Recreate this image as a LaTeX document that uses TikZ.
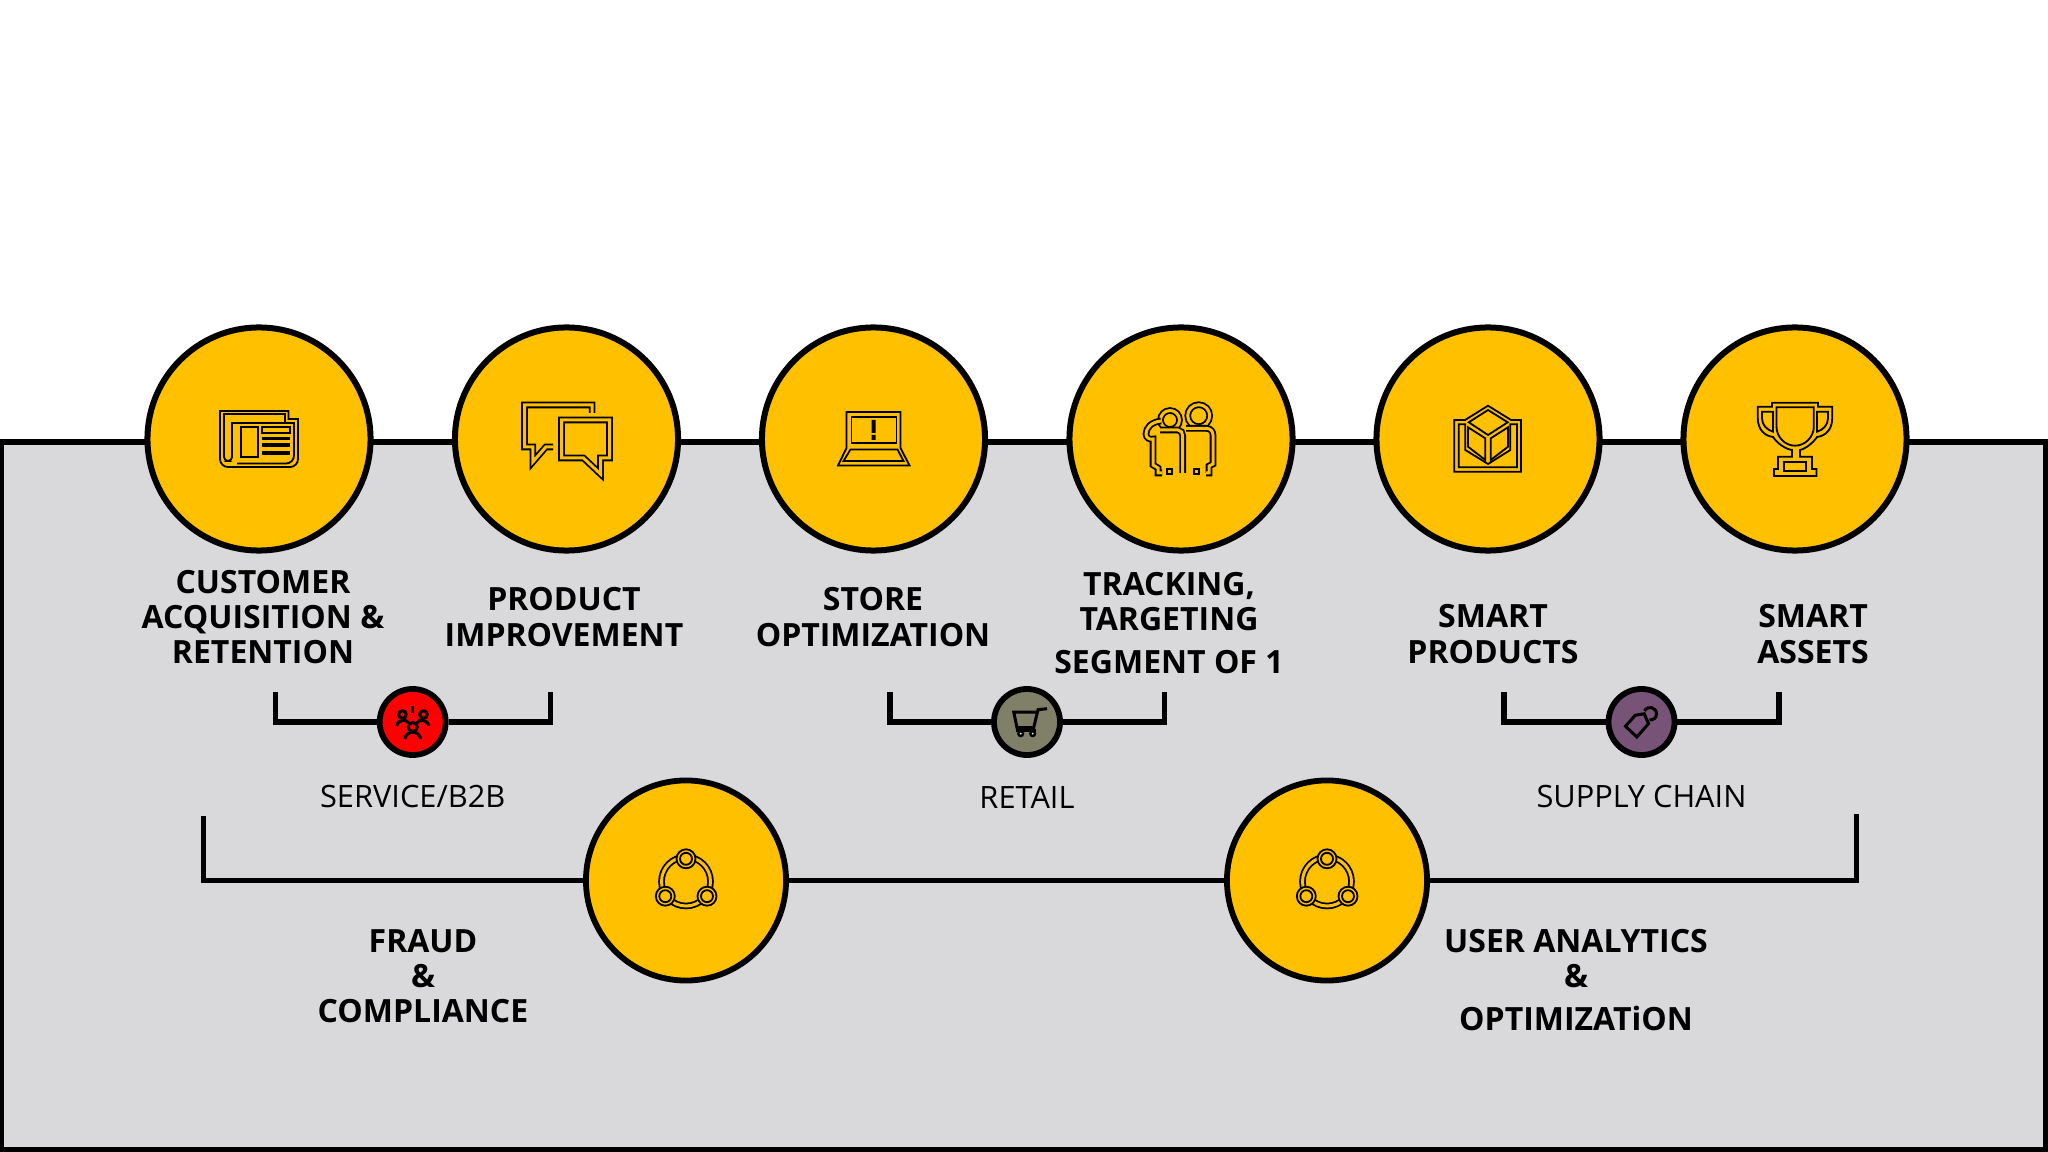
\documentclass[tikz,border=0pt]{standalone}
\usepackage{fontspec}
\setmainfont{Open Sans}
\usetikzlibrary{calc}

\definecolor{gold}{HTML}{FFC000}
\definecolor{panelgray}{HTML}{D9D8DB}
\definecolor{retailolive}{HTML}{808068}
\definecolor{chainpurple}{HTML}{775377}

\begin{document}
\begin{tikzpicture}[x = 0.01cm, y = -0.01cm,
    bar/.style = {line width = 0.058cm},
    bigdot/.style = {circle, draw, fill = gold, line width = 0.06cm, minimum size = 2.23cm, inner sep = 0},
    middot/.style = {circle, draw, fill = gold, line width = 0.058cm, minimum size = 2.0cm, inner sep = 0},
    smalldot/.style = {circle, draw, line width = 0.058cm, minimum size = 0.66cm, inner sep = 0},
    usecase/.style = {align = center, font = \fontsize{9.1}{10}\selectfont\bfseries},
    segment/.style = {font = \fontsize{8.75}{10}\selectfont},
    icon/.style = {line width = 0.018cm, line join = miter},
    glyph/.style = {line width = 0.03cm}
  ]
    \useasboundingbox (0, 0) rectangle (2048, 1152);
    \draw[bar, fill = panelgray] (1, 442) rectangle (2046, 1150);

    % top row
    \foreach \name/\x in {custc/259, prodc/566.5, storec/873.5, trackc/1181, smartc/1488, assetc/1795}
      \node[bigdot] (\name) at (\x, 439) {};

    \node[usecase] (custt) at (263, 617) {CUSTOMER\\ACQUISITION \&\\RETENTION};
    \node[usecase] (prodt) at (564, 617) {PRODUCT\\IMPROVEMENT};
    \node[usecase] (storet) at (873, 617) {STORE\\OPTIMIZATION};
    \node[usecase] (trackt) at (1169, 623) {TRACKING,\\TARGETING\\[0.085cm]SEGMENT OF 1};
    \node[usecase] (smartt) at (1493, 634) {SMART\\PRODUCTS};
    \node[usecase] (assett) at (1813, 634) {SMART\\ASSETS};

    % segment brackets
    \node[smalldot, fill = red] (svc) at (412.7, 722) {};
    \node[smalldot, fill = retailolive] (retail) at (1027, 722) {};
    \node[smalldot, fill = chainpurple] (chain) at (1641.5, 722) {};
    \foreach \seg/\lx/\rx in {svc/275.5/550.5, retail/890/1164.5, chain/1504/1779} {
      \coordinate (\seg L) at (\lx, 692);
      \coordinate (\seg R) at (\rx, 692);
      \draw[bar] (\seg L) |- (\seg.west);
      \draw[bar] (\seg.east) -| (\seg R);
    }
    \node[segment] (svct) at (412.7, 797) {SERVICE/B2B};
    \node[segment] (retailt) at (1027, 797) {RETAIL};
    \node[segment] (chaint) at (1641.5, 797) {SUPPLY CHAIN};

    % lower row
    \node[middot] (fraudc) at (686, 880.5) {};
    \node[middot] (userc) at (1327, 880.5) {};
    \coordinate (fraudL) at (203.5, 816);
    \coordinate (userR) at (1856.5, 814);
    \draw[bar] (fraudL) |- (fraudc.west);
    \draw[bar] (fraudc.east) -- (userc.west);
    \draw[bar] (userc.east) -| (userR);
    \node[usecase] (fraudt) at (423, 976) {FRAUD\\\&\\COMPLIANCE};
    \node[usecase] (usert) at (1576, 980) {USER ANALYTICS\\\&\\[0.08cm]OPTIMIZATiON};

    % newspaper
    \begin{scope}[shift = {(custc)}, shift = {(0, 1)}, icon]
      \draw (-39, -29) -- (29.5, -29) -- (29.5, -21) -- (39, -21) [rounded corners = 0.08cm] -- (39, 27) -- (-39, 27) [sharp corners] -- cycle;
      \draw (-35, -26) -- (26, -26) -- (26, -17) -- (-27, -17) [rounded corners = 0.04cm] -- (-27, 21) -- (-35, 21) [sharp corners] -- cycle;
      \draw (-27, -17) -- (35, -17) [rounded corners = 0.08cm] -- (35, 23.5) -- (-22, 23.5);
      \draw (-18, -13) rectangle (-1, 17);
      \draw (3, -13) rectangle (31, -7);
      \draw[line width = 0.035cm] (3, -1.5) -- (31, -1.5) (3, 5) -- (31, 5) (3, 13) -- (31, 13);
    \end{scope}

    % speech bubbles
    \begin{scope}[shift = {(prodc)}, shift = {(0, 1)}, icon]
      \draw[double = gold, double distance = 0.03cm] (25.6, -27) -- (25.6, -35) -- (-42, -35) -- (-42, 7) -- (-33.7, 7) -- (-33.7, 22) -- (-20.7, 7) -- (-13.4, 7);
      \draw[double = gold, double distance = 0.03cm] (-5, -20) -- (43, -20) -- (43, 18) -- (34, 18) -- (34, 34) -- (17, 18) -- (-5, 18) -- cycle;
    \end{scope}

    % laptop
    \begin{scope}[shift = {(storec)}, shift = {(0, 1)}, icon]
      \draw (-27, -28) -- (27, -28) -- (27, 8) -- (36, 25.5) -- (-35.5, 25.5) -- (-27, 8) -- cycle;
      \draw (-22, -23.3) rectangle (23, 3.3);
      \draw (-23, 9.5) -- (24, 9.5) -- (30, 21) -- (-30, 21) -- cycle;
      \fill (-2, -20) rectangle (2, -7) (-2, -5) rectangle (2, 0);
    \end{scope}

    % two people
    \begin{scope}[shift = {(trackc)}, shift = {(0, 1)}, icon]
      \draw[double = gold, double distance = 0.03cm] (-11, -20) circle (9.5);
      \draw[double = gold, double distance = 0.03cm] (17.7, -24.3) circle (11);
      \draw[double = gold, double distance = 0.03cm] (5, -11.7) -- (25, -11.7) .. controls (30, -11.7) and (32, -8) .. (32, -5) -- (32, 24) -- (28, 26) -- (28, 33) -- (25, 33);
      \draw[double = gold, double distance = 0.03cm] (-21, -10) -- (-3, -10) .. controls (0, -10) and (1.7, -7) .. (1.7, -4) -- (1.7, 33);
      \draw[double = gold, double distance = 0.03cm] (-20, -19) .. controls (-30, -18) and (-35, -12) .. (-35, -6) .. controls (-35, -2) and (-31, 0) .. (-28, -1) -- (-28, 25) -- (-23, 28) -- (-23, 33) -- (-19, 33);
      \draw (-14, 29) rectangle (-9, 34) (13, 29) rectangle (18, 34);
    \end{scope}

    % box
    \begin{scope}[shift = {(smartc)}, shift = {(0, 1)}, icon]
      \draw (-33.7, -20) -- (-23, -20) -- (0, -34.3) -- (23, -20) -- (33, -20) -- (33, 31.7) -- (-33.7, 31.7) -- cycle;
      \draw (-29.3, -15.7) -- (-22.7, -15.7) -- (-22.7, 10) -- (0, 24) -- (22.3, 10) -- (22.3, -15.7) -- (29, -15.7) -- (29, 27.3) -- (-29.3, 27.3) -- cycle;
      \draw (0, -30) -- (19.7, -17.7) -- (0, -5) -- (-19.3, -17.7) -- cycle;
      \draw (-20, -12.7) -- (-2.7, -1.7) -- (-2.7, 20) -- (-20, 6.7) -- cycle;
      \draw (20, -12.7) -- (2.7, -1.7) -- (2.7, 20) -- (20, 6.7) -- cycle;
    \end{scope}

    % trophy
    \begin{scope}[shift = {(assetc)}, shift = {(0, 1)}, icon]
      \draw (-23, -37.3) -- (23, -37.3) -- (23, -33.3) -- (37.2, -33.3) -- (37.2, -21.7) .. controls (37.2, -10) and (30, -4) .. (22, -3) .. controls (18, 3) and (10, 9) .. (5, 10) -- (5, 16.7) -- (17, 16.7) -- (17, 29) -- (21.5, 29) -- (21.5, 36) -- (-21, 36) -- (-21, 29) -- (-17, 29) -- (-17, 16.7) -- (-3, 16.7) -- (-3, 10) .. controls (-10, 9) and (-18, 3) .. (-22, -3) .. controls (-30, -4) and (-37.2, -10) .. (-37.2, -21.7) -- (-37.2, -33.3) -- (-23, -33.3) -- cycle;
      \draw (-18.5, -32.7) -- (18.8, -32.7) -- (18.8, -13.3) .. controls (18.8, -3) and (10, 5.7) .. (0, 5.7) .. controls (-10, 5.7) and (-18.5, -3) .. (-18.5, -13.3) -- cycle;
      \draw (-33, -28.3) -- (-22, -28.3) -- (-22, -8.3) .. controls (-28, -10) and (-33, -15) .. (-33, -21.7) -- cycle;
      \draw (33, -28.3) -- (22, -28.3) -- (22, -8.3) .. controls (28, -10) and (33, -15) .. (33, -21.7) -- cycle;
      \draw (-11, 21.7) rectangle (11, 30.7);
    \end{scope}

    % three linked circles
    \foreach \hub in {fraudc, userc} {
      \begin{scope}[shift = {(\hub)}, icon]
        \draw[double = gold, double distance = 0.03cm] (0, 1) circle (24.5);
        \foreach \px/\py in {0/-21.7, -20.7/15.7, 21/15.7} {
          \draw[fill = gold] (\px, \py) circle (9.5);
          \draw (\px, \py) circle (6);
        }
      \end{scope}
    }

    % service people
    \begin{scope}[shift = {(svc)}, glyph]
      \draw (0, -16) -- (0, -9);
      \draw (-10.3, -7.5) circle (3.8) (10.7, -7.5) circle (3.8) (0, 5) circle (4.5);
      \draw (-16, 4) .. controls (-15, -3) and (-6, -3) .. (-4, 1) (16, 4) .. controls (15, -3) and (6, -3) .. (4, 1);
      \draw (-8, 17) .. controls (-6, 8) and (6, 8) .. (8, 17);
    \end{scope}

    % cart
    \begin{scope}[shift = {(retail)}, glyph]
      \draw (20, -13.3) -- (11, -12.3) -- (6.7, 5.7) -- (-10, 5.7) -- (-13.3, -10) -- (11, -10);
      \draw (-11, 8.5) -- (9, 8.5);
      \fill (-6.3, 11.7) circle (3.6) (5.7, 11.7) circle (3.6);
      \fill[white] (-6.3, 11.7) circle (1) (5.7, 11.7) circle (1);
    \end{scope}

    % tag
    \begin{scope}[shift = {(chain)}, glyph]
      \draw (-16, 4.3) -- (-6.3, -6.7) -- (2.7, -8.3) -- (7, 1.7) -- (-4.7, 15) -- cycle;
      \draw (3, -11) .. controls (6, -17) and (15, -15) .. (15, -8) .. controls (15, -4) and (12, -2) .. (8, -2);
    \end{scope}
  \end{tikzpicture}
\end{document}
